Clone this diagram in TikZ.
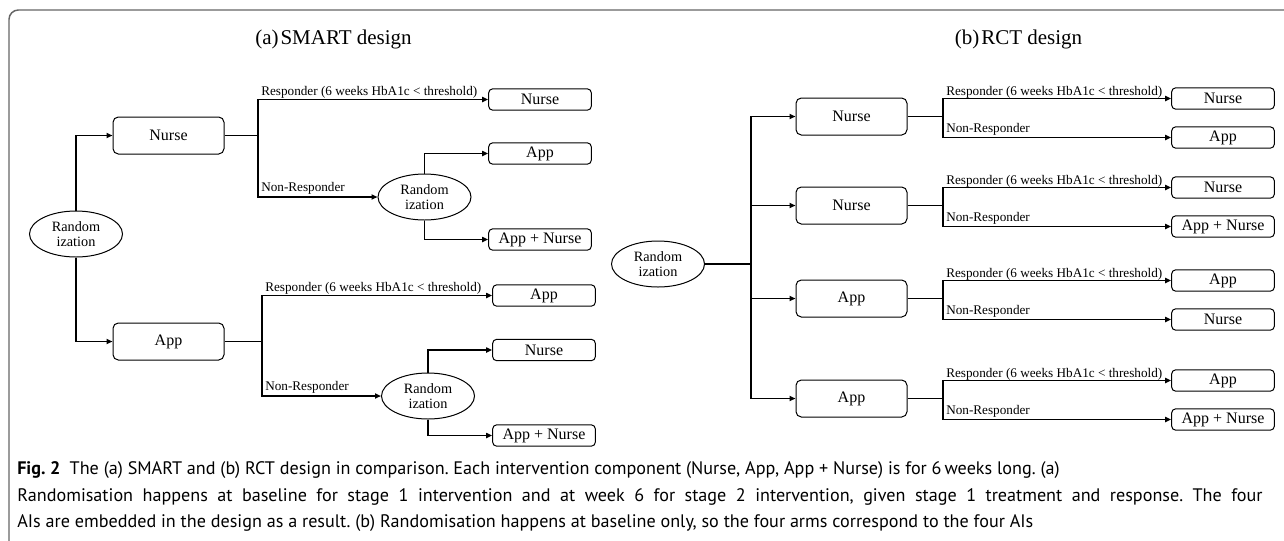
\documentclass[tikz,border=0pt]{standalone}
\usepackage{fontspec}
\setmainfont{Liberation Serif}
\newfontfamily\capfont{PT Sans}
\usetikzlibrary{arrows.meta,shapes.geometric}
\frenchspacing
\begin{document}
\begin{tikzpicture}[x=0.75pt,y=-0.75pt,
  conn/.style={line width=1.45pt, -{Triangle[length=4.5pt,width=3.8pt]}},
  plain/.style={line width=1.45pt},
  bigbox/.style={draw, line width=0.75pt, rounded corners=4pt, minimum width=83.25pt, minimum height=27.75pt, inner sep=0pt, font=\fontsize{12}{14}\selectfont},
  smallbox/.style={draw, line width=0.75pt, rounded corners=3pt, minimum width=77pt, minimum height=16pt, inner sep=0pt, font=\fontsize{12}{14}\selectfont},
  rand/.style={draw, ellipse, line width=0.75pt, minimum width=69.75pt, minimum height=34.5pt, inner sep=0pt, align=center, font=\fontsize{10.7}{11.8}\selectfont},
  lab/.style={anchor=base west, inner sep=0pt, font=\fontsize{9.9}{11}\selectfont},
  ttl/.style={anchor=base, inner sep=0pt, font=\fontsize{15.75}{18}\selectfont},
  captext/.style={anchor=base west, inner sep=0pt, font=\capfont\fontsize{13.6}{16}\selectfont}]
\useasboundingbox (0,0) rectangle (1284,540);
\draw[black!60, line width=1.1pt, rounded corners=7pt] (9,548) -- (9,10) -- (1292,10);

% ---------------- (a) SMART design ----------------
\node[ttl] (ta) at (333.5,44) {(a)\hspace{1.5pt}SMART design};
\node[rand] (ra) at (76,234) {Random\\ization};
\node[bigbox] (na) at (168.5,135.5) {Nurse};
\node[bigbox] (aa) at (168.5,341.5) {App};
\draw[conn] (ra.north) |- (na.west);
\draw[conn] (ra.south) |- (aa.west);

% upper group
\coordinate (sa) at (258,135.5);
\node[smallbox] (na1) at (540,99.5) {Nurse};
\node[rand] (ra1) at (424.5,197) {Random\\ization};
\node[smallbox] (aa1) at (540,153.5) {App};
\node[smallbox] (ana1) at (540,239.5) {App + Nurse};
\draw[plain] (na.east) -- (sa);
\draw[conn] (sa) |- (na1.west);
\draw[conn] (sa) |- (ra1.west);
\draw[conn] (ra1.north) |- (aa1.west);
\draw[conn] (ra1.south) |- (ana1.west);
\node[lab] (la1) at (261,95) {Responder (6 weeks HbA1c < threshold)};
\node[lab] (la2) at (261,191.5) {Non-Responder};

% lower group
\coordinate (sb) at (262,341.5);
\node[smallbox] (ab1) at (544,295.5) {App};
\node[rand] (rb1) at (428,396) {Random\\ization};
\node[smallbox] (nb1) at (544,350) {Nurse};
\node[smallbox] (anb1) at (544,435.5) {App + Nurse};
\draw[plain] (aa.east) -- (sb);
\draw[conn] (sb) |- (ab1.west);
\draw[conn] (sb) |- (rb1.west);
\draw[conn] (rb1.north) |- (nb1.west);
\draw[conn] (rb1.south) |- (anb1.west);
\node[lab] (lb1) at (265,291) {Responder (6 weeks HbA1c < threshold)};
\node[lab] (lb2) at (265,390.5) {Non-Responder};

% ---------------- (b) RCT design ----------------
\node[ttl] (tb) at (1018.5,44) {(b)\hspace{1.5pt}RCT design};
\node[rand] (rc) at (658,264) {Random\\ization};
\coordinate (mc) at (751,264);
\draw[plain] (rc.east) -- (mc);
\foreach \k/\c/\s/\ra/\rb in {1/116.5/Nurse/Nurse/App, 2/205.5/Nurse/Nurse/App + Nurse, 3/298.5/App/App/Nurse, 4/398.5/App/App/App + Nurse}{
  \node[bigbox] (c\k) at (851.5,\c) {\s};
  \coordinate (s\k) at (943,\c);
  \node[smallbox] (r\k) at (1223,\c-18) {\ra};
  \node[smallbox] (n\k) at (1223,\c+21) {\rb};
  \draw[conn] (mc) |- (c\k.west);
  \draw[plain] (c\k.east) -- (s\k);
  \draw[conn] (s\k) |- (r\k.west);
  \draw[conn] (s\k) |- (n\k.west);
  \node[lab] (lr\k) at (946,\c-21) {Responder (6 weeks HbA1c < threshold)};
  \node[lab] (ln\k) at (946,\c+16) {Non-Responder};
}

% ---------------- caption ----------------
\node[captext] (cap1) at (17,474) {\textbf{Fig. 2}\hspace{7pt}The (a) SMART and (b) RCT design in comparison. Each intervention component (Nurse, App, App + Nurse) is for 6\,weeks long. (a)};
\node[captext] (cap2) at (17,501) {\hbox to 934pt{Randomisation happens at baseline for stage 1 intervention and at week 6 for stage 2 intervention, given stage 1 treatment and response. The four}};
\node[captext] (cap3) at (17,527) {AIs are embedded in the design as a result. (b) Randomisation happens at baseline only, so the four arms correspond to the four AIs};
\end{tikzpicture}
\end{document}
